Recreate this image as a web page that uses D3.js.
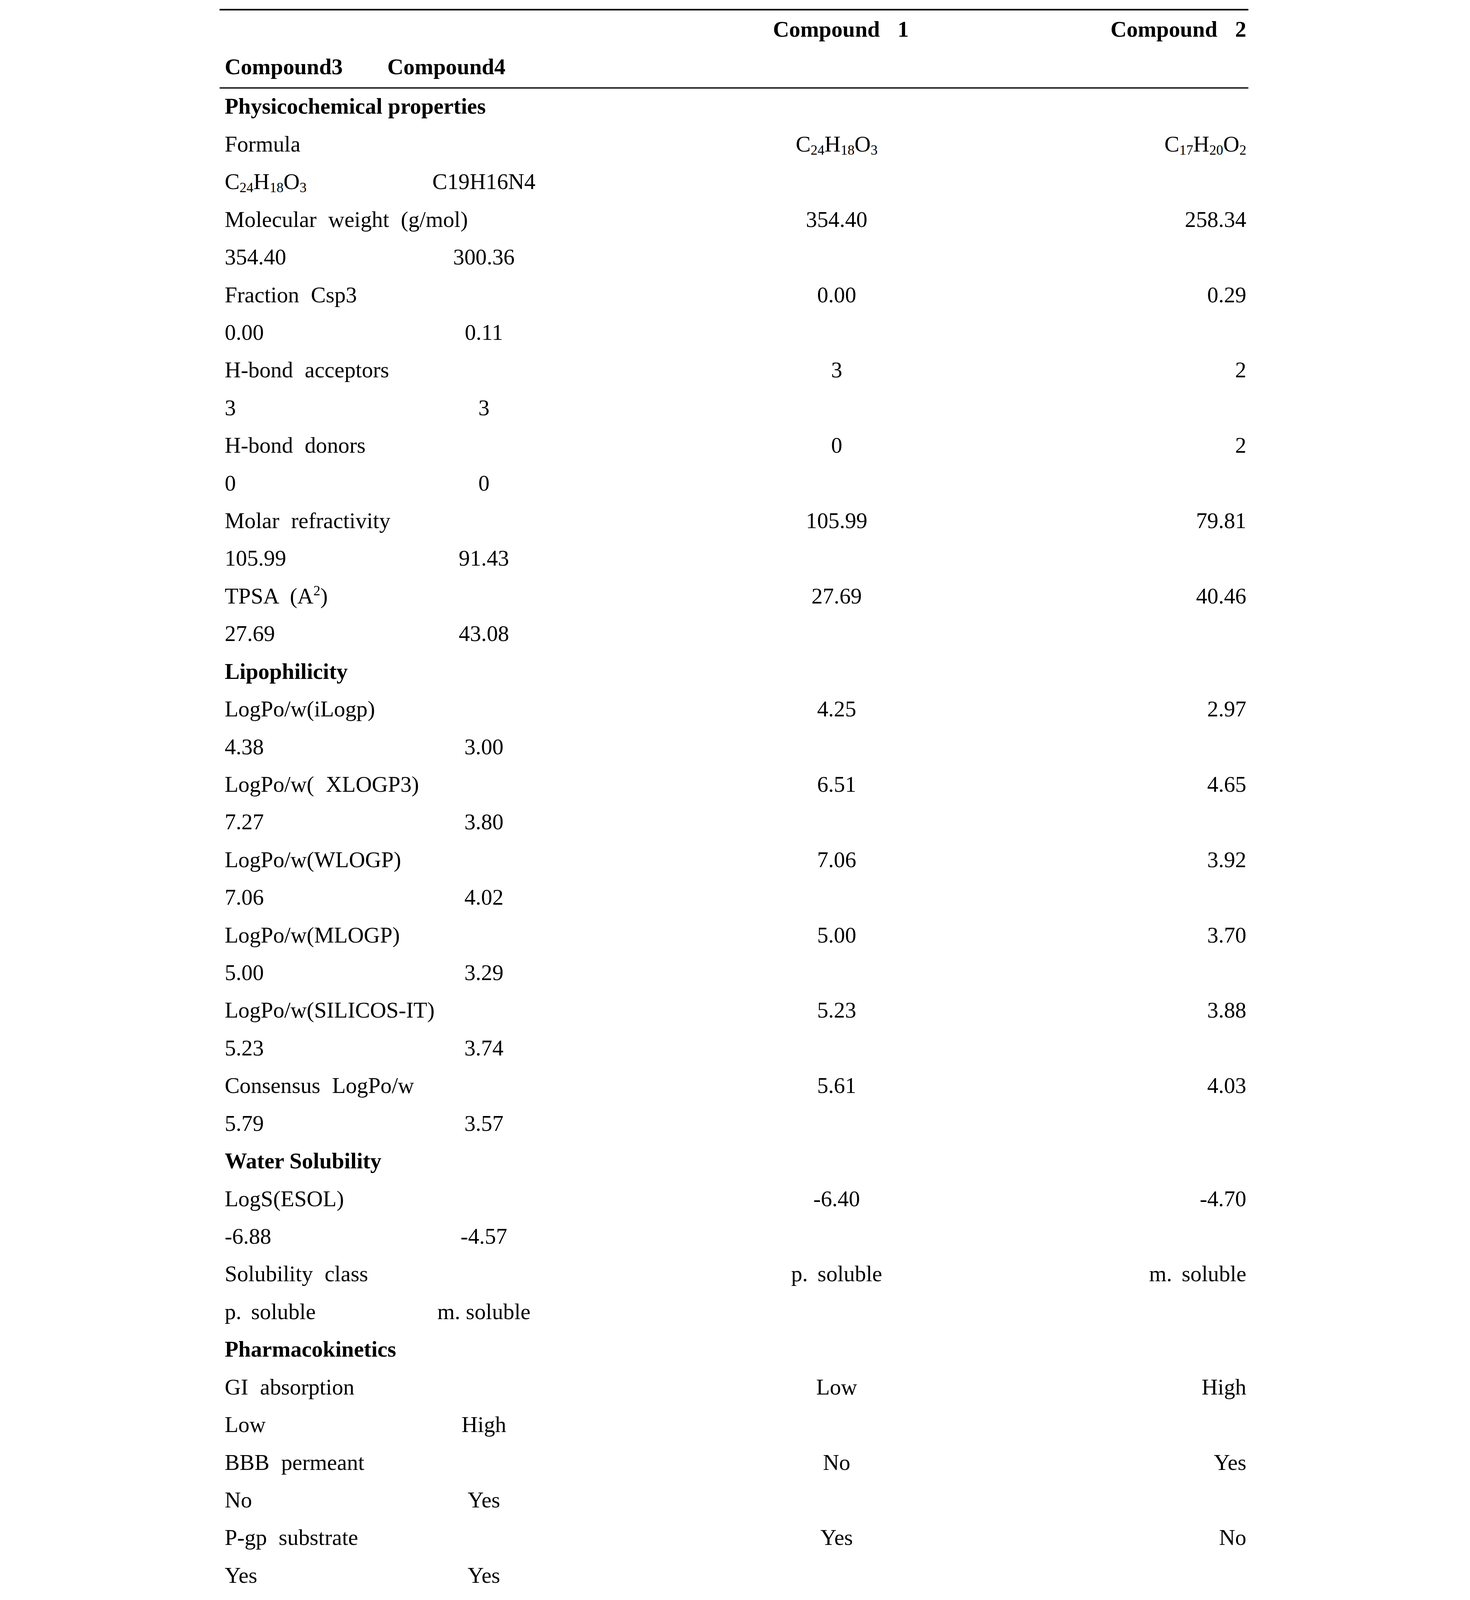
<!DOCTYPE html>
<html>
<head>
<meta charset="utf-8">
<script src="https://cdn.jsdelivr.net/npm/d3@7/dist/d3.min.js"></script>
<style>
  html, body { margin: 0; background: #fff; overflow: hidden; }
  svg { display: block; width: 100vw; height: 100vh; }
  text { font-family: "Liberation Serif", "DejaVu Serif", serif; fill: #000; }
</style>
</head>
<body>
<div id="table"></div>
<script>
// column headers
var headers = ["Compound 1", "Compound 2", "Compound3", "Compound4"];

// section titles and the rows under them
var sections = ["Physicochemical properties", "Lipophilicity", "Water Solubility", "Pharmacokinetics"];
var sectionRows = [
  ["Formula", "Molecular weight (g/mol)", "Fraction Csp3", "H-bond acceptors", "H-bond donors", "Molar refractivity", "TPSA (A^2)"],
  ["LogPo/w(iLogp)", "LogPo/w( XLOGP3)", "LogPo/w(WLOGP)", "LogPo/w(MLOGP)", "LogPo/w(SILICOS-IT)", "Consensus LogPo/w"],
  ["LogS(ESOL)", "Solubility class"],
  ["GI absorption", "BBB permeant", "P-gp substrate"]
];

// values per compound, same order as the rows above
var compound1 = ["C_24H_18O_3", "354.40", "0.00", "3", "0", "105.99", "27.69",
  "4.25", "6.51", "7.06", "5.00", "5.23", "5.61", "-6.40", "p. soluble", "Low", "No", "Yes"];
var compound2 = ["C_17H_20O_2", "258.34", "0.29", "2", "2", "79.81", "40.46",
  "2.97", "4.65", "3.92", "3.70", "3.88", "4.03", "-4.70", "m. soluble", "High", "Yes", "No"];
var compound3 = ["C_24H_18O_3", "354.40", "0.00", "3", "0", "105.99", "27.69",
  "4.38", "7.27", "7.06", "5.00", "5.23", "5.79", "-6.88", "p. soluble", "Low", "No", "Yes"];
var compound4 = ["C19H16N4", "300.36", "0.11", "3", "0", "91.43", "43.08",
  "3.00", "3.80", "4.02", "3.29", "3.74", "3.57", "-4.57", "m. soluble", "High", "Yes", "Yes"];

var W = 1030, H = 1574, fs = 22;
var svg = d3.select("#table").append("svg")
  .attr("viewBox", "0 0 " + W + " " + H)
  .attr("preserveAspectRatio", "xMidYMin meet");

// build line list
var lines = [];
var k = 0;
sections.forEach(function(s, si) {
  lines.push({type: "section", label: s});
  sectionRows[si].forEach(function(r) {
    lines.push({type: "row", label: r, c1: compound1[k], c2: compound2[k]});
    lines.push({type: "row2", label: r, c3: compound3[k], c4: compound4[k]});
    k++;
  });
});

var y = d3.scaleLinear().domain([0, lines.length - 1]).range([112, 1557]);
var x = d3.scaleLinear().domain([0, 1]).range([13, 1018]);

// draw text with _ subscripts and ^ superscripts
function rich(sel, str) {
  var parts = str.split(/([_^]\d+)/);
  var back = 0;
  parts.forEach(function(p) {
    if (!p) return;
    if (p[0] === "_" || p[0] === "^") {
      var dy = p[0] === "_" ? 3 : -8;
      sel.append("tspan").attr("font-size", fs * 0.62).attr("dy", dy + back).text(p.slice(1));
      back = -dy;
    } else {
      sel.append("tspan").attr("dy", back).text(p);
      back = 0;
    }
  });
}

// rules
svg.append("line").attr("x1", 8).attr("x2", 1020).attr("y1", 9.5).attr("y2", 9.5)
  .attr("stroke", "#000").attr("stroke-width", 1.5);
svg.append("line").attr("x1", 8).attr("x2", 1020).attr("y1", 86.5).attr("y2", 86.5)
  .attr("stroke", "#000").attr("stroke-width", 1.2);

// headers
var hdr = svg.append("g").attr("font-weight", "bold").attr("font-size", fs);
hdr.append("text").attr("x", 686).attr("y", 36).attr("text-anchor", "end").attr("word-spacing", 12).text(headers[0]);
hdr.append("text").attr("x", x(1)).attr("y", 36).attr("text-anchor", "end").attr("word-spacing", 12).text(headers[1]);
hdr.append("text").attr("x", x(0)).attr("y", 73).text(headers[2]);
hdr.append("text").attr("x", 173).attr("y", 73).text(headers[3]);

var g = svg.selectAll(".line").data(lines).enter().append("g")
  .attr("class", "line").attr("font-size", fs)
  .attr("transform", function(d, i) { return "translate(0," + y(i) + ")"; });

g.filter(function(d) { return d.type === "section"; })
  .append("text").attr("x", x(0)).attr("font-weight", "bold").text(function(d) { return d.label; });

var r1 = g.filter(function(d) { return d.type === "row"; });
r1.append("text").attr("x", x(0)).attr("word-spacing", 6)
  .each(function(d) { rich(d3.select(this), d.label); });
r1.append("text").attr("x", 615).attr("text-anchor", "middle").attr("word-spacing", 4)
  .each(function(d) { rich(d3.select(this), d.c1); });
r1.append("text").attr("x", x(1)).attr("text-anchor", "end").attr("word-spacing", 4)
  .each(function(d) { rich(d3.select(this), d.c2); });

var r2 = g.filter(function(d) { return d.type === "row2"; });
r2.append("text").attr("x", x(0)).attr("word-spacing", 4)
  .each(function(d) { rich(d3.select(this), d.c3); });
r2.append("text").attr("x", 268).attr("text-anchor", "middle")
  .each(function(d) { rich(d3.select(this), d.c4); });
</script>
</body>
</html>
